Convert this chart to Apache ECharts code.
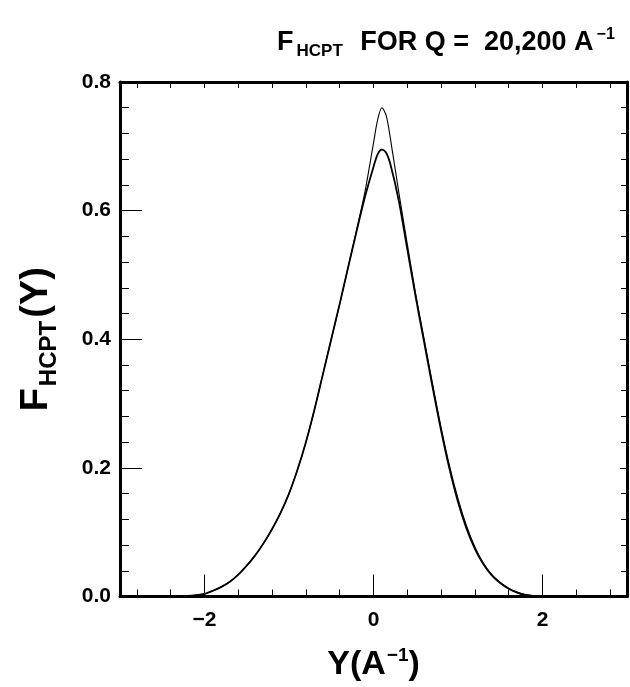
<!DOCTYPE html>
<html>
<head>
<meta charset="utf-8">
<script src="https://cdn.jsdelivr.net/npm/echarts@6/dist/echarts.min.js"></script>
<style>
html,body{margin:0;padding:0;background:#fff;}
#chart{width:630px;height:687px;}
</style>
</head>
<body>
<div id="chart"></div>
<script>
// Y values (A^-1)
const yPoints = [-3.0,-2.6,-2.2,-2.1,-2.0,-1.9,-1.8,-1.7,-1.6,-1.5,-1.4,-1.3,-1.2,-1.1,-1.0,-0.9,-0.8,-0.7,-0.6,-0.5,-0.4,-0.3,-0.2,-0.1,0.0,0.05,0.1,0.15,0.2,0.3,0.4,0.5,0.6,0.7,0.8,0.9,1.0,1.1,1.2,1.3,1.4,1.5,1.6,1.7,1.8,1.9,2.2,2.6,3.0];
// lower curve F_HCPT(Y)
const curveLower = [0,0,0.001,0.002,0.004,0.009,0.015,0.023,0.034,0.048,0.064,0.083,0.105,0.130,0.160,0.197,0.240,0.290,0.345,0.400,0.455,0.512,0.568,0.622,0.668,0.688,0.695,0.690,0.672,0.615,0.540,0.465,0.395,0.325,0.258,0.198,0.147,0.106,0.074,0.050,0.033,0.021,0.012,0.006,0.002,0.001,0,0,0];
// upper curve F_HCPT(Y)
const curveUpper = [0,0,0.001,0.002,0.004,0.009,0.015,0.023,0.034,0.048,0.064,0.083,0.105,0.130,0.160,0.197,0.240,0.290,0.345,0.400,0.455,0.512,0.570,0.630,0.705,0.742,0.760,0.748,0.712,0.628,0.548,0.470,0.400,0.330,0.263,0.203,0.152,0.110,0.077,0.052,0.034,0.022,0.013,0.007,0.003,0.001,0,0,0];
// tick values
const xMajorTicks = [-2, 0, 2];
const xMinorTicks = [-2.8,-2.4,-1.6,-1.2,-0.8,-0.4,0.4,0.8,1.2,1.6,2.4,2.8];
const xAllTicks = [-2.8,-2.4,-2,-1.6,-1.2,-0.8,-0.4,0,0.4,0.8,1.2,1.6,2,2.4,2.8];

const chart = echarts.init(document.getElementById('chart'));
const FONT = '"Liberation Sans", Arial, sans-serif';
const pair = (xs, ys) => xs.map((x, i) => [x, ys[i]]);

const option = {
  animation: false,
  backgroundColor: '#fff',
  title: {
    text: 'F{sub|HCPT} FOR Q =  20,200 A{sup|−1}',
    left: 272, top: 20,
    textStyle: {
      fontFamily: FONT, fontWeight: 'bold', fontSize: 27, color: '#000',
      rich: {
        sub: {fontFamily: FONT, fontWeight: 'bold', fontSize: 17, color: '#000', padding: [18, 10, 0, 3]},
        sup: {fontFamily: FONT, fontWeight: 'bold', fontSize: 16, color: '#000', padding: [0, 0, 16, 3]}
      }
    }
  },
  grid: {left: 120, right: 3, top: 82, bottom: 79, containLabel: false},
  xAxis: [
    {
      type: 'value', min: -3, max: 3, position: 'bottom',
      axisLine: {show: true, onZero: false, lineStyle: {color: '#000', width: 3}},
      axisTick: {show: true, inside: true, length: 22, customValues: xMajorTicks, lineStyle: {color: '#000', width: 1}},
      axisLabel: {show: true, customValues: xMajorTicks, formatter: v => String(v).replace('-', '−'),
        fontFamily: FONT, fontWeight: 'bold', fontSize: 21, color: '#000', margin: 13},
      splitLine: {show: false},
      name: 'Y(A{sup|−1})', nameLocation: 'middle', nameGap: 50,
      nameTextStyle: {fontFamily: FONT, fontWeight: 'bold', fontSize: 34, color: '#000',
        rich: {sup: {fontFamily: FONT, fontWeight: 'bold', fontSize: 19, color: '#000', padding: [0, 0, 18, 1]}}}
    },
    {
      type: 'value', min: -3, max: 3, position: 'bottom',
      axisLine: {show: false},
      axisTick: {show: true, inside: true, length: 7, customValues: xMinorTicks, lineStyle: {color: '#000', width: 1}},
      axisLabel: {show: false}, splitLine: {show: false}
    },
    {
      type: 'value', min: -3, max: 3, position: 'top',
      axisLine: {show: true, onZero: false, lineStyle: {color: '#000', width: 3}},
      axisTick: {show: true, inside: true, length: 6, customValues: xAllTicks, lineStyle: {color: '#000', width: 1}},
      axisLabel: {show: false}, splitLine: {show: false}
    }
  ],
  yAxis: [
    {
      type: 'value', min: 0, max: 0.8, interval: 0.2, position: 'left',
      axisLine: {show: true, onZero: false, lineStyle: {color: '#000', width: 3}},
      axisTick: {show: true, inside: true, length: 22, lineStyle: {color: '#000', width: 1}},
      minorTick: {show: true, splitNumber: 5, length: 9, lineStyle: {color: '#000', width: 1}},
      axisLabel: {formatter: v => v.toFixed(1), fontFamily: FONT, fontWeight: 'bold', fontSize: 21, color: '#000', margin: 9},
      splitLine: {show: false}, minorSplitLine: {show: false},
      name: 'F{sub|HCPT}(Y)', nameLocation: 'middle', nameGap: 59, nameRotate: 90,
      nameTextStyle: {fontFamily: FONT, fontWeight: 'bold', fontSize: 38, color: '#000',
        rich: {sub: {fontFamily: FONT, fontWeight: 'bold', fontSize: 24, color: '#000', padding: [24, 3, 0, 2]}}}
    },
    {
      type: 'value', min: 0, max: 0.8, interval: 0.2, position: 'right',
      axisLine: {show: true, onZero: false, lineStyle: {color: '#000', width: 3}},
      axisTick: {show: true, inside: true, length: 7, lineStyle: {color: '#000', width: 1}},
      minorTick: {show: true, splitNumber: 5, length: 6, lineStyle: {color: '#000', width: 1}},
      axisLabel: {show: false}, splitLine: {show: false}, minorSplitLine: {show: false}
    }
  ],
  series: [
    {
      type: 'line', xAxisIndex: 0, yAxisIndex: 0, data: pair(yPoints, curveLower),
      smooth: 0.3, showSymbol: false, lineStyle: {color: '#000', width: 1.8}
    },
    {
      type: 'line', xAxisIndex: 0, yAxisIndex: 0, data: pair(yPoints, curveUpper),
      smooth: 0.3, showSymbol: false, lineStyle: {color: '#000', width: 1.1}
    }
  ]
};
chart.setOption(option);
</script>
</body>
</html>
